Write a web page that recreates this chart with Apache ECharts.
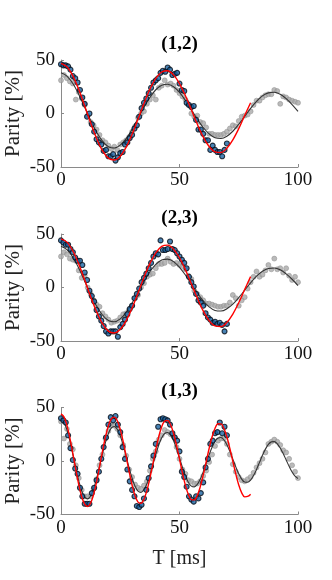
<!DOCTYPE html>
<html>
<head>
<meta charset="utf-8">
<script src="https://cdn.jsdelivr.net/npm/echarts@6/dist/echarts.min.js"></script>
<style>
html,body{margin:0;padding:0;background:#fff;}
#c{width:332px;height:580px;}
</style>
</head>
<body>
<div id="c"></div>
<script>
// ---------- data ----------
const panelTitles = ['(1,2)', '(2,3)', '(1,3)'];
const xTicks = [0, 50, 100];
const yTicks = [-50, 0, 50];
const yName = 'Parity [%]';
const xName = 'T [ms]';

// time axes (ms)
const tBlue = [0,1,2,3,4,5,6,7,8,9,10,11,12,13,14,15,16,17,18,19,20,21,22,23,24,25,26,27,28,29,30,31,32,33,34,35,36,37,38,39,40,41,42,43,44,45,46,47,48,49,50,51,52,53,54,55,56,57,58,59,60,61,62,63,64,65,66,67,68,69,70];
const tGray = [0,1.25,2.5,3.75,5,6.25,7.5,8.75,10,11.25,12.5,13.75,15,16.25,17.5,18.75,20,21.25,22.5,23.75,25,26.25,27.5,28.75,30,31.25,32.5,33.75,35,36.25,37.5,38.75,40,41.25,42.5,43.75,45,46.25,47.5,48.75,50,51.25,52.5,53.75,55,56.25,57.5,58.75,60,61.25,62.5,63.75,65,66.25,67.5,68.75,70,71.25,72.5,73.75,75,76.25,77.5,78.75,80,81.25,82.5,83.75,85,86.25,87.5,88.75,90,91.25,92.5,93.75,95,96.25,97.5,98.75,100];
const tFit = [0,2.5,5,7.5,10,12.5,15,17.5,20,22.5,25,27.5,30,32.5,35,37.5,40,42.5,45,47.5,50,52.5,55,57.5,60,62.5,65,67.5,70,72.5,75,77.5,80,82.5,85,87.5,90,92.5,95,97.5,100];

// panel (1,2)
const blue12 = [46,45,45,44,41,35,33,29,22,15,9,-3,0,-10,-17,-24,-27,-29,-35,-34,-40,-40,-38,-44,-41,-37,-36,-29,-27,-23,-20,-14,-11,-3,5,10,14,19,24,29,31,33,38,40,39,43,41,36,37,38,28,22,21,10,8,6,7,-6,-15,-15,-19,-25,-25,-34,-30,-34,-36,-36,-40,-34,-28];
const gray12 = [31,36,33,30,28,13,20,14,8,-2,-8,-11,-15,-20,-25,-27,-30,-33,-31,-34,-29,-27,-25,-22,-17,-12,-4,0,2,9,13,17,13,24,26,31,27,28,26,22,19,16,13,8,0,-3,-2,-8,-9,-13,-19,-19,-20,-20,-20,-19,-17,-14,-11,-12,-7,-3,-2,-1,2,8,12,12,15,17,18,18,22,21,9,16,15,13,12,11,10];
const red12 = [46.9,43.7,35.2,22.4,7.1,-8.7,-23.2,-34.7,-41.7,-43.5,-39.9,-31.5,-19.4,-5.2,9.4,22.6,32.8,38.8,40.0,36.1,28.0,16.6,3.5,-9.9,-21.8,-30.8,-35.8,-36.4,-32.4,-24.6,-14.1,-1.8,10.1];
const black12 = [38.0,35.0,28.0,17.8,5.9,-6.3,-17.3,-25.8,-31.0,-32.2,-29.6,-23.5,-14.7,-4.6,5.8,15.0,22.2,26.4,27.4,25.0,19.7,12.2,3.5,-5.3,-13.1,-19.0,-22.6,-23.3,-21.2,-16.6,-10.1,-2.7,4.8,11.4,16.5,19.3,19.8,17.9,13.9,8.4,2.0];

// panel (2,3)
const blue23 = [44,42,40,40,36,33,28,25,25,21,14,7,-3,-8,-13,-21,-27,-31,-36,-41,-43,-41,-41,-41,-46,-37,-34,-30,-25,-20,-17,-10,-6,-1,5,9,13,18,23,29,32,31,44,35,35,36,43,36,35,32,29,26,23,18,10,5,1,-6,-12,-14,-17,-24,-28,-30,-33,-32,-34,-33,-35,-41,-34];
const gray23 = [29,33,31,27,26,25,16,9,11,0,-6,-12,-16,-18,-24,-27,-30,-33,-32,-31,-28,-25,-24,-21,-17,-10,-7,0,4,10,12,13,18,22,22,23,27,24,22,23,21,20,17,11,8,-3,-6,-9,-12,-15,-15,-16,-17,-18,-18,-17,-17,-14,-7,-10,-17,-12,-9,-1,5,10,15,10,12,16,21,17,27,17,18,14,18,11,7,10,5];
const red23 = [45.5,42.4,34.1,21.8,7.0,-8.5,-22.6,-33.8,-40.8,-42.5,-39.1,-30.9,-19.1,-5.1,9.3,22.3,32.4,38.4,39.6,35.8,27.8,16.6,3.5,-9.8,-21.8,-30.9,-35.9,-36.5,-32.6,-24.8,-14.2,-1.9,10.2];
const black23 = [38.5,35.4,28.2,18.0,5.9,-6.3,-17.3,-25.7,-30.8,-32.0,-29.3,-23.2,-14.5,-4.5,5.7,14.7,21.6,25.7,26.5,24.2,18.9,11.7,3.4,-5.0,-12.4,-18.1,-21.4,-22.0,-19.9,-15.6,-9.5,-2.5,4.4,10.6,15.2,17.8,18.2,16.5,12.7,7.7,1.8];

// panel (1,3)  (fits sampled every 1.25 ms)
const blue13 = [40,38,36,24,12,1,-7,-12,-25,-33,-40,-40,-40,-30,-25,-18,-10,2,13,22,34,41,38,42,34,27,13,2,-8,-19,-27,-33,-42,-43,-41,-35,-27,-16,-5,5,16,32,39,40,39,38,34,26,22,19,9,-10,-15,-24,-33,-36,-38,-33,-35,-30,-20,-6,2,16,19,26,27,36,26,32,24];
const gray13 = [37,21,30,16,11,-4,-16,-27,-33,-33,-33,-26,-17,-4,6,21,28,33,33,30,24,15,5,-8,-15,-22,-25,-26,-23,-19,-9,2,9,20,24,29,27,25,23,13,2,-8,-12,-18,-19,-21,-21,-19,-14,-9,-1,6,14,19,21,21,16,6,-3,-10,-15,-18,-19,-17,-15,-11,-6,-2,2,8,16,18,20,18,15,10,8,2,-4,-10,-16];
const red13 = [44.0,41.2,33.3,21.4,7.0,-8.2,-22.2,-33.4,-40.5,-42.5,-39.3,-31.4,-19.6,-5.6,9.1,22.4,33.0,39.5,41.0,37.6,29.5,17.9,4.2,-9.9,-22.7,-32.6,-38.4,-39.5,-35.7,-27.7,-16.2,-2.9,10.6,22.9,32.1,37.3,37.9,33.8,25.7,14.5,1.8,-11.2,-22.8,-31.4,-36.0,-36.3,-32.3,-24.2,-13.2,-0.9,11.7,22.6,30.6,34.8,34.7,30.4,22.4,11.7,-0.3,-12.1,-22.4,-29.8,-33.5,-33.1,-31.0];
const black13 = [39.0,36.2,29.2,18.7,6.2,-6.7,-18.6,-28.0,-33.8,-35.4,-32.7,-26.2,-16.6,-5.2,6.6,17.3,25.7,30.9,32.3,29.6,23.6,14.7,4.3,-6.4,-16.0,-23.6,-28.2,-29.3,-26.8,-21.2,-13.0,-3.5,6.2,15.0,21.7,25.7,26.6,24.2,18.9,11.5,2.8,-6.0,-13.9,-20.0,-23.5,-24.2,-21.9,-17.0,-10.2,-2.3,5.8,12.9,18.4,21.5,22.0,19.8,15.3,9.0,1.8,-5.5,-12.0,-16.9,-19.7,-19.9,-17.8,-13.6,-7.9,-1.3,5.3,11.1,15.5,17.9,18.1,16.1,12.2,6.9,1.0,-5.0,-10.3,-14.2,-16.3];

// ---------- chart ----------
const panels = [
  {blue: blue12, gray: gray12, red: red12, black: black12, tRed: tFit, tBlack: tFit},
  {blue: blue23, gray: gray23, red: red23, black: black23, tRed: tFit, tBlack: tFit},
  {blue: blue13, gray: gray13, red: red13, black: black13, tRed: tGray, tBlack: tGray}
];
const pair = (ts, vs) => vs.map((v, i) => [ts[i], v]);

const FONT = '"Liberation Serif","Times New Roman",serif';
const gridTops = [60, 234, 407.5];
const gridLeft = 61, gridW = 237, gridH = 107;
const axisGray = '#8a8a8a';

const grids = [], xAxes = [], yAxes = [], series = [], graphics = [];
panels.forEach((p, i) => {
  grids.push({left: gridLeft, top: gridTops[i], width: gridW, height: gridH});
  xAxes.push({
    type: 'value', gridIndex: i, min: xTicks[0], max: xTicks[2], interval: 50,
    axisLine: {show: true, onZero: false, lineStyle: {color: axisGray, width: 1}},
    axisTick: {show: true, inside: true, length: 3, lineStyle: {color: axisGray}},
    axisLabel: {color: '#111', fontFamily: FONT, fontSize: 19, margin: 4},
    splitLine: {show: false}
  });
  yAxes.push({
    type: 'value', gridIndex: i, min: yTicks[0], max: yTicks[2], interval: 50,
    axisLine: {show: true, onZero: false, lineStyle: {color: axisGray, width: 1}},
    axisTick: {show: true, inside: true, length: 3, lineStyle: {color: axisGray}},
    axisLabel: {color: '#111', fontFamily: FONT, fontSize: 19, margin: 6},
    splitLine: {show: false}
  });
  series.push({
    type: 'scatter', xAxisIndex: i, yAxisIndex: i, data: pair(tGray, p.gray),
    symbolSize: 5, itemStyle: {color: '#a9a9a9', borderColor: '#8c8c8c', borderWidth: 0.6},
    silent: true, z: 2
  });
  series.push({
    type: 'line', xAxisIndex: i, yAxisIndex: i, data: pair(p.tBlack, p.black),
    smooth: 0.35, symbol: 'none', lineStyle: {color: '#333', width: 1.1}, silent: true, z: 3
  });
  series.push({
    type: 'scatter', xAxisIndex: i, yAxisIndex: i, data: pair(tBlue, p.blue),
    symbolSize: 5, itemStyle: {color: '#1a64a3', borderColor: '#050d18', borderWidth: 1.1},
    silent: true, z: 4
  });
  series.push({
    type: 'line', xAxisIndex: i, yAxisIndex: i, data: pair(p.tRed, p.red),
    smooth: 0.35, symbol: 'none', lineStyle: {color: '#ff0000', width: 1.4}, silent: true, z: 5
  });
  graphics.push({
    type: 'text', x: gridLeft + gridW / 2, y: gridTops[i] - 16,
    style: {text: panelTitles[i], font: 'bold 19px ' + FONT, fill: '#000', textAlign: 'center', textVerticalAlign: 'middle'}
  });
  graphics.push({
    type: 'text', x: 13, y: gridTops[i] + gridH / 2, rotation: Math.PI / 2,
    style: {text: yName, font: '21px ' + FONT, fill: '#222', textAlign: 'center', textVerticalAlign: 'middle'}
  });
});
graphics.push({
  type: 'text', x: gridLeft + gridW / 2, y: 559,
  style: {text: xName, font: '20px ' + FONT, fill: '#222', textAlign: 'center', textVerticalAlign: 'middle'}
});

const chart = echarts.init(document.getElementById('c'), null, {renderer: 'canvas'});
chart.setOption({
  animation: false,
  backgroundColor: '#fff',
  grid: grids, xAxis: xAxes, yAxis: yAxes, series: series, graphic: graphics
});
</script>
</body>
</html>
